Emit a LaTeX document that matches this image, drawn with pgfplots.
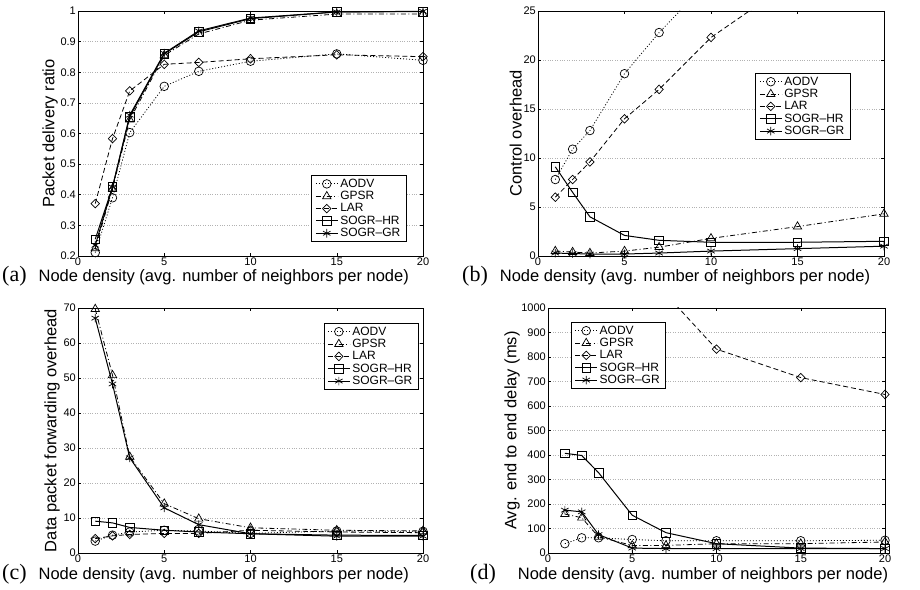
\documentclass[border=0pt]{standalone}
\usepackage{fontspec}
\setmainfont{Liberation Sans}
\newfontfamily\timesfont{Liberation Serif}
\usepackage{pgfplots}
\pgfplotsset{compat=1.18}

\pgfplotsset{
  panel/.style={
    scale only axis,
    height=245pt,
    xmin=0, xmax=20,
    xtick={0,5,10,15,20},
    ymajorgrids,
    grid style={dotted, gray!60, line width=0.5pt},
    tick align=inside,
    major tick length=3pt,
    axis line style={line width=0.7pt},
    every tick/.style={black, line width=0.5pt},
    /pgf/number format/assume math mode=true,
    /pgf/number format/1000 sep={},
    tick label style={font=\fontsize{11}{11}\selectfont, inner sep=2pt},
    label style={font=\fontsize{16.5}{16.5}\selectfont, inner sep=0pt},
    xlabel style={at={(axis description cs:0,0)}, anchor=base west, yshift=-26pt},
    ylabel style={at={(axis description cs:0,0.5)}, anchor=south},
    legend cell align=left,
    legend style={draw=black, fill=white, line width=0.6pt,
      font=\fontsize{12}{12}\selectfont, inner sep=1.5pt, inner xsep=3.5pt, row sep=-1.5pt},
    legend image code/.code={
      \draw[mark indices={2}] plot coordinates {(0pt,0pt) (11pt,0pt) (22pt,0pt)};},
    every axis plot/.append style={black, line width=0.8pt, mark size=4.3pt,
      mark options={solid, fill=none, line width=0.7pt}},
  },
  aodv/.style={dash pattern=on 1pt off 2pt, mark=o},
  gpsr/.style={dash pattern=on 5pt off 2.5pt on 1pt off 2.5pt, mark=triangle, mark size=4.8pt},
  lar/.style={dash pattern=on 5pt off 3pt, mark=diamond,
    mark options={solid, fill=none, line width=0.7pt, xscale=1.3}},
  sogrhr/.style={solid, line width=1pt, mark=square},
  sogrgr/.style={solid, line width=1pt, mark=asterisk},
}

\newcommand{\xlab}[2]{{\timesfont\fontsize{22}{22}\selectfont (#1)}\hspace{#2}Node density (avg. number of neighbors per node)}

\begin{document}
\begin{tikzpicture}

% (a)
\begin{axis}[panel, at={(78pt,333pt)}, anchor=south west, width=345pt,
  ymin=0.2, ymax=1, ytick={0.2,0.3,...,1.01},
  yticklabel style={/pgf/number format/fixed},
  xlabel={\xlab{a}{12pt}}, xlabel style={xshift=-76pt},
  ylabel={Packet delivery ratio}, ylabel style={yshift=20pt},
  legend style={at={(0.951,0.057)}, anchor=south east}]
\addplot[aodv] coordinates {(1,0.211)(2,0.39)(3,0.603)(5,0.754)(7,0.803)(10,0.836)(15,0.86)(20,0.839)};
\addplot[gpsr] coordinates {(1,0.225)(2,0.42)(3,0.645)(5,0.855)(7,0.925)(10,0.97)(15,0.99)(20,0.99)};
\addplot[lar] coordinates {(1,0.371)(2,0.583)(3,0.739)(5,0.826)(7,0.832)(10,0.844)(15,0.857)(20,0.851)};
\addplot[sogrhr] coordinates {(1,0.255)(2,0.425)(3,0.655)(5,0.86)(7,0.932)(10,0.975)(15,0.997)(20,0.998)};
\addplot[sogrgr] coordinates {(1,0.235)(2,0.425)(3,0.66)(5,0.862)(7,0.935)(10,0.977)(15,0.997)(20,0.999)};
\legend{AODV,GPSR,LAR,SOGR--HR,SOGR--GR}
\end{axis}

% (b)
\begin{axis}[panel, at={(538pt,333pt)}, anchor=south west, width=346pt,
  ymin=0, ymax=25, ytick={0,5,...,25},
  xlabel={\xlab{b}{12pt}}, xlabel style={xshift=-76pt},
  ylabel={Control overhead}, ylabel style={yshift=16pt},
  legend style={at={(0.902,0.747)}, anchor=north east}]
\addplot[aodv] coordinates {(1,7.8)(2,10.9)(3,12.8)(5,18.6)(7,22.8)(10,28.3)(15,38)(20,47)};
\addplot[gpsr] coordinates {(1,0.5)(2,0.4)(3,0.3)(5,0.5)(7,0.9)(10,1.8)(15,3.0)(20,4.3)};
\addplot[lar] coordinates {(1,6.0)(2,7.8)(3,9.6)(5,14.0)(7,17.0)(10,22.3)(15,28.4)(20,34)};
\addplot[sogrhr] coordinates {(1,9.1)(2,6.5)(3,4.0)(5,2.1)(7,1.6)(10,1.4)(15,1.4)(20,1.5)};
\addplot[sogrgr] coordinates {(1,0.3)(2,0.25)(3,0.2)(5,0.2)(7,0.3)(10,0.5)(15,0.75)(20,1.0)};
\legend{AODV,GPSR,LAR,SOGR--HR,SOGR--GR}
\end{axis}

% (c)
\begin{axis}[panel, at={(78pt,36pt)}, anchor=south west, width=345pt,
  ymin=0, ymax=70, ytick={0,10,...,70},
  xlabel={\xlab{c}{12pt}}, xlabel style={xshift=-76pt},
  ylabel={Data packet forwarding overhead}, ylabel style={yshift=18pt},
  legend style={at={(0.986,0.939)}, anchor=north east}]
\addplot[aodv] coordinates {(1,3.4)(2,5.1)(3,6.0)(5,6.5)(7,6.3)(10,5.6)(15,6.3)(20,6.2)};
\addplot[gpsr] coordinates {(1,69.7)(2,50.8)(3,27.5)(5,14.1)(7,9.8)(10,7.2)(15,6.5)(20,6.3)};
\addplot[lar] coordinates {(1,4.1)(2,4.9)(3,5.3)(5,5.6)(7,5.6)(10,6.5)(15,6.0)(20,5.8)};
\addplot[sogrhr] coordinates {(1,9.1)(2,8.6)(3,7.3)(5,6.5)(7,6.0)(10,5.5)(15,5.1)(20,5.0)};
\addplot[sogrgr] coordinates {(1,67.1)(2,48.3)(3,27.2)(5,12.9)(7,8.1)(10,5.5)(15,4.8)(20,4.8)};
\legend{AODV,GPSR,LAR,SOGR--HR,SOGR--GR}
\end{axis}

% (d)
\begin{axis}[panel, at={(548pt,36pt)}, anchor=south west, width=337pt,
  ymin=0, ymax=1000, ytick={0,100,...,1000},
  xlabel={\xlab{d}{22pt}}, xlabel style={xshift=-78pt},
  ylabel={Avg. end to end delay (ms)}, ylabel style={yshift=28pt},
  legend style={at={(0.068,0.943)}, anchor=north west}]
\addplot[aodv] coordinates {(1,38)(2,62)(3,62)(5,55)(7,50)(10,50)(15,50)(20,52)};
\addplot[gpsr] coordinates {(1,159)(2,144)(3,66)(5,31)(7,31)(10,38)(15,38)(20,45)};
\addplot[lar] coordinates {(1,2500)(2,2100)(3,1800)(5,1400)(7,1056)(10,832)(15,716)(20,647)};
\addplot[sogrhr] coordinates {(1,407)(2,398)(3,328)(5,154)(7,83)(10,38)(15,20)(20,18)};
\addplot[sogrgr] coordinates {(1,175)(2,168)(3,75)(5,20)(7,18)(10,18)(15,18)(20,18)};
\legend{AODV,GPSR,LAR,SOGR--HR,SOGR--GR}
\end{axis}

\pgfresetboundingbox
\useasboundingbox (0pt,0pt) rectangle (920pt,589pt);
\end{tikzpicture}
\end{document}
